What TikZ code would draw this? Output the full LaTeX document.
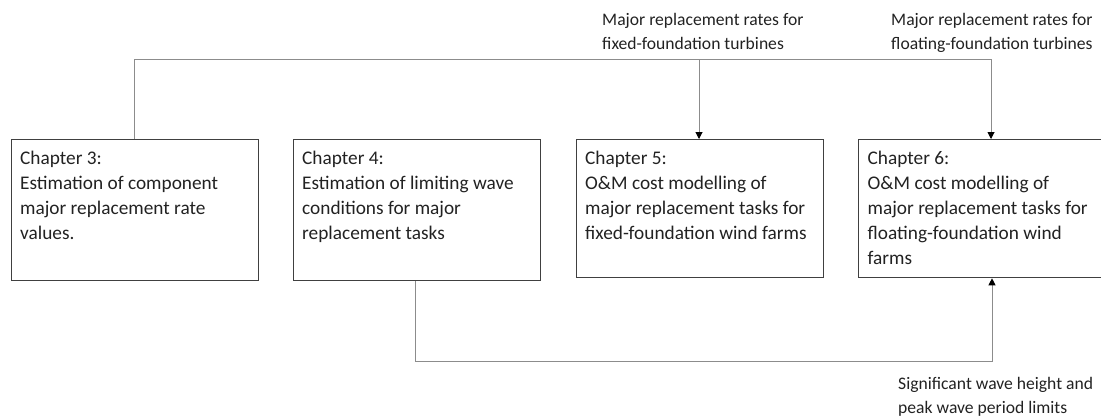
\documentclass[tikz,border=0pt]{standalone}
\usepackage{fontspec}
\setmainfont{Carlito}
\usetikzlibrary{arrows.meta}
\definecolor{boxline}{HTML}{404040}
\definecolor{conline}{HTML}{8C8C8C}
\definecolor{txt}{HTML}{222222}
\tikzset{
  chbox/.style={draw=boxline, line width=1.3pt, minimum width=247pt, inner sep=0pt, anchor=north west},
  chtxt/.style={anchor=base west, inner sep=0pt, text=txt, font=\fontsize{19.3pt}{25.2pt}\selectfont},
  lbl/.style={anchor=base west, inner sep=0pt, text=txt, font=\fontsize{17.6pt}{24pt}\selectfont},
  con/.style={draw=conline, line width=1pt},
  arr/.style={con, -{Triangle[length=7pt,width=7pt,color=black]}},
}
\begin{document}
\begin{tikzpicture}[x=1pt,y=-1pt]
\useasboundingbox (0,0) rectangle (1101,416);
% boxes
\node[chbox, minimum height=141pt] (c3) at (11,139) {};
\node[chbox, minimum height=141pt] (c4) at (293,139) {};
\node[chbox, minimum height=138pt] (c5) at (576,139) {};
\node[chbox, minimum height=138pt] (c6) at (858,139) {};
% box texts
\node[chtxt] (t3) at (20,164) {\parbox[t]{235pt}{Chapter 3:\\Estimation of component\\major replacement rate\\values.}};
\node[chtxt] (t4) at (302,164) {\parbox[t]{235pt}{Chapter 4:\\Estimation of limiting wave\\conditions for major\\replacement tasks}};
\node[chtxt] (t5) at (585,164) {\parbox[t]{235pt}{Chapter 5:\\O\&M cost modelling of\\major replacement tasks for\\fixed-foundation wind farms}};
\node[chtxt] (t6) at (867.5,164) {\parbox[t]{235pt}{Chapter 6:\\O\&M cost modelling of\\major replacement tasks for\\floating-foundation wind\\farms}};
% labels
\node[lbl] (l1) at (602,25.7) {\parbox[t]{220pt}{Major replacement rates for\\fixed-foundation turbines}};
\node[lbl] (l2) at (891,25.7) {\parbox[t]{220pt}{Major replacement rates for\\floating-foundation turbines}};
\node[lbl] (l3) at (898,389) {\parbox[t]{220pt}{Significant wave height and\\peak wave period limits}};
% connector corners
\coordinate (tl) at (134.5,59);
\coordinate (tm) at (699,59);
\coordinate (tr) at (991,59);
\coordinate (bl) at (415,361);
\coordinate (br) at (992,361);
% connectors
\draw[con] (c3.north -| tl) -- (tl) -- (tr);
\draw[arr] (tm) -- (c5.north -| tm);
\draw[arr] (tr) -- (c6.north -| tr);
\draw[arr] (c4.south -| bl) -- (bl) -- (br) -- (c6.south -| br);
\end{tikzpicture}
\end{document}
